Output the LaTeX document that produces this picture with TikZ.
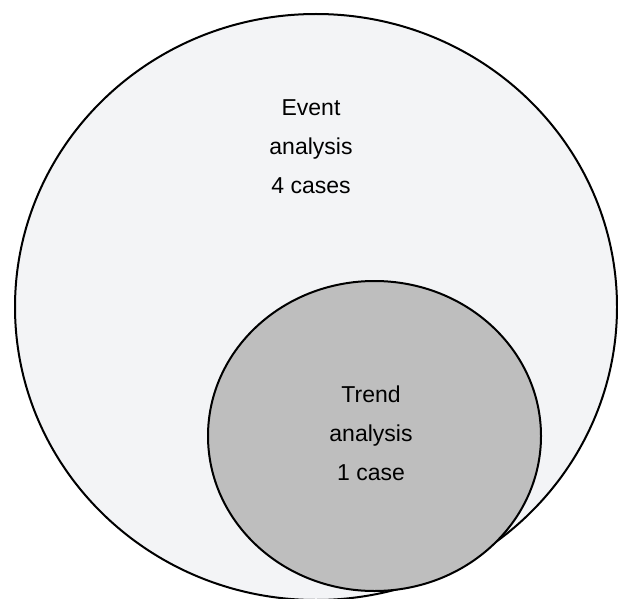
\documentclass[tikz,border=0pt]{standalone}
\usepackage{fontspec}
\setmainfont{Liberation Sans}
\usetikzlibrary{shapes.geometric}
\definecolor{outerfill}{HTML}{F3F4F6}
\definecolor{innerfill}{HTML}{BEBEBE}
\tikzset{
  setshape/.style={ellipse, draw=black, line width=2pt, inner sep=0pt},
  label text/.style={align=center, font=\fontsize{23}{39}\selectfont, inner sep=0pt}
}
\begin{document}
\begin{tikzpicture}[x=1pt,y=-1pt]
\useasboundingbox (0,0) rectangle (618,599);
\clip (0,0) rectangle (618,599);
\node[setshape, fill=outerfill, minimum width=602pt, minimum height=586pt] (event) at (316,307) {};
\node[setshape, fill=innerfill, minimum width=333pt, minimum height=310pt] (trend) at (374.5,436) {};
\node[label text] (eventlabel) at (311,147) {Event\\analysis\\4 cases};
\node[label text] (trendlabel) at (371,433) {Trend\\analysis\\1 case};
\end{tikzpicture}
\end{document}
